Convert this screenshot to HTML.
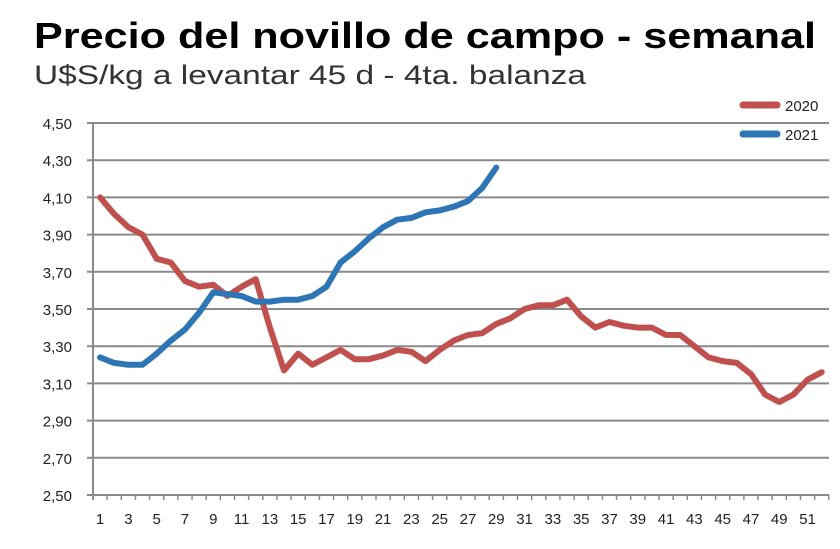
<!DOCTYPE html><html><head><meta charset="utf-8"><style>
body{margin:0;width:840px;height:544px;background:#fff;overflow:hidden;font-family:"Liberation Sans",sans-serif}
</style></head><body>
<svg id="s" width="840" height="544" xmlns="http://www.w3.org/2000/svg">
<text x="34" y="48" font-family="Liberation Sans" font-weight="bold" font-size="36" fill="#000" textLength="782" lengthAdjust="spacingAndGlyphs">Precio del novillo de campo - semanal</text>
<text x="34" y="84" font-family="Liberation Sans" font-size="27" fill="#333" textLength="552" lengthAdjust="spacingAndGlyphs">U$S/kg a levantar 45 d - 4ta. balanza</text>
<g id="g"></g>
<line x1="743" y1="105" x2="777" y2="105" stroke="#c0504d" stroke-width="7" stroke-linecap="round"/>
<text x="785" y="111" font-size="15" fill="#222">2020</text>
<line x1="743" y1="134" x2="777" y2="134" stroke="#2e75b6" stroke-width="7" stroke-linecap="round"/>
<text x="785" y="140" font-size="15" fill="#222">2021</text>
</svg>
<script>
var g=document.getElementById('g'),h='';
function Y(v){return 495-(v-2.5)*186}
function X(i){return 93+(i-0.5)*14.15}
for(var k=0;k<=10;k++){var v=2.5+k*0.2,y=Y(v);
h+='<line x1="87" y1="'+y+'" x2="829" y2="'+y+'" stroke="#8a8a8a" stroke-width="2"/>';
h+='<text x="72" y="'+(y+6)+'" text-anchor="end" font-size="15" fill="#222">'+v.toFixed(2).replace('.',',')+'</text>';}
h+='<line x1="93" y1="123" x2="93" y2="500" stroke="#8a8a8a" stroke-width="2"/>';
for(var i=0;i<=52;i++){var x=93+i*14.15;h+='<line x1="'+x+'" y1="495" x2="'+x+'" y2="500" stroke="#8a8a8a" stroke-width="1.5"/>';}
for(var i=1;i<=51;i+=2)h+='<text x="'+X(i)+'" y="524" text-anchor="middle" font-size="15" fill="#222">'+i+'</text>';
var a=[4.10,4.01,3.94,3.90,3.77,3.75,3.65,3.62,3.63,3.57,3.62,3.66,3.40,3.17,3.26,3.20,3.24,3.28,3.23,3.23,3.25,3.28,3.27,3.22,3.28,3.33,3.36,3.37,3.42,3.45,3.50,3.52,3.52,3.55,3.46,3.40,3.43,3.41,3.40,3.40,3.36,3.36,3.30,3.24,3.22,3.21,3.15,3.04,3.00,3.04,3.12,3.16];
var b=[3.24,3.21,3.20,3.20,3.26,3.33,3.39,3.48,3.59,3.58,3.57,3.54,3.54,3.55,3.55,3.57,3.62,3.75,3.81,3.88,3.94,3.98,3.99,4.02,4.03,4.05,4.08,4.15,4.26];
function P(d,c){var p=d.map(function(v,i){return X(i+1).toFixed(1)+','+Y(v).toFixed(1)}).join(' ');
return '<polyline points="'+p+'" fill="none" stroke="'+c+'" stroke-width="6" stroke-linejoin="round" stroke-linecap="round"/>';}
h+=P(a,'#c0504d')+P(b,'#2e75b6');
g.innerHTML=h;
</script>
</body></html>
